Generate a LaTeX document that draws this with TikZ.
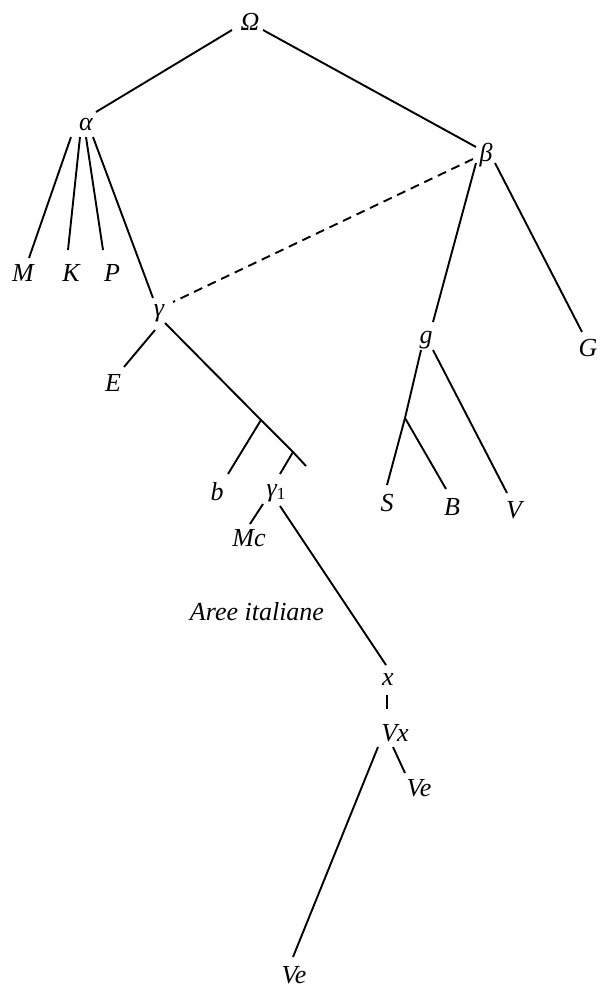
\documentclass[tikz,border=0pt]{standalone}
\usepackage{fontspec}
\setmainfont{Liberation Serif}
\usetikzlibrary{calc}
\begin{document}
\begin{tikzpicture}[x=1pt,y=-1pt,
  lab/.style={inner sep=0pt,font=\fontsize{26}{30}\selectfont\itshape},
  edge/.style={line width=1.9pt},
  dashedge/.style={line width=1.9pt,dash pattern=on 9pt off 6pt}]
\useasboundingbox (0,0) rectangle (600,995);
\node[lab] (Om) at (250,22) {Ω};
\node[lab] (al) at (86,125) {α};
\node[lab] (be) at (486,155) {β};
\node[lab] (M) at (23,273) {M};
\node[lab] (K) at (71,273) {K};
\node[lab] (P) at (112,273) {P};
\node[lab] (ga) at (159,313) {γ};
\node[lab] (E) at (113,383) {E};
\node[lab] (g) at (426,340) {g};
\node[lab] (G) at (588,348) {G};
\node[lab] (b) at (217,492) {b};
\node[lab] (ga1) at (276,493) {γ\raisebox{-3pt}{\upshape\fontsize{17}{20}\selectfont 1}};
\node[lab] (Mc) at (249,538) {Mc};
\node[lab] (S) at (387,503) {S};
\node[lab] (B) at (452,507) {B};
\node[lab] (V) at (514,510) {V};
\node[lab] (Aree) at (257,612) {Aree italiane};
\node[lab] (x) at (388,680) {x};
\node[lab] (Vx) at (395,733) {Vx};
\node[lab] (Ve1) at (419,788) {Ve};
\node[lab] (Ve2) at (294,975) {Ve};
\coordinate (br1) at (261,420);
\coordinate (br2) at (293,452);
\coordinate (endm) at (306,466);
\coordinate (gbr) at (405,418);
% edges
\draw[edge] ($(Om)+(-18,8)$) -- ($(al)+(10,-13)$);
\draw[edge] ($(Om)+(13,8)$) -- ($(be)+(-10,-8)$);
\draw[edge] ($(al)+(-15,12)$) -- ($(M)+(6,-15)$);
\draw[edge] ($(al)+(-6,12)$) -- ($(K)+(-3,-23)$);
\draw[edge] ($(al)+(0,12)$) -- ($(P)+(-9,-23)$);
\draw[edge] ($(al)+(7,12)$) -- ($(ga)+(-6,-15)$);
\draw[edge] ($(ga)+(-4,17)$) -- ($(E)+(11,-16)$);
\draw[edge] ($(ga)+(6,10)$) -- (br1) -- (br2) -- (endm);
\draw[edge] (br1) -- ($(b)+(11,-18)$);
\draw[edge] (br2) -- ($(ga1)+(4,-19)$);
\draw[edge] ($(ga1)+(-13,11)$) -- ($(Mc)+(1,-14)$);
\draw[edge] ($(ga1)+(4,13)$) -- ($(x)+(-2,-15)$);
\draw[edge] ($(x)+(-1,15)$) -- ($(Vx)+(-8,-24)$);
\draw[edge] ($(Vx)+(-17,14)$) -- ($(Ve2)+(-1,-18)$);
\draw[edge] ($(Vx)+(-2,14)$) -- ($(Ve1)+(-14,-15)$);
\draw[dashedge] ($(be)+(-13,4)$) -- ($(ga)+(14,-11)$);
\draw[edge] ($(be)+(-10,8)$) -- ($(g)+(7,-18)$);
\draw[edge] ($(be)+(9,8)$) -- ($(G)+(-6,-16)$);
\draw[edge] ($(g)+(-5,10)$) -- (gbr) -- ($(S)+(0,-18)$);
\draw[edge] (gbr) -- ($(B)+(-6,-18)$);
\draw[edge] ($(g)+(7,10)$) -- ($(V)+(-7,-17)$);
\end{tikzpicture}
\end{document}
